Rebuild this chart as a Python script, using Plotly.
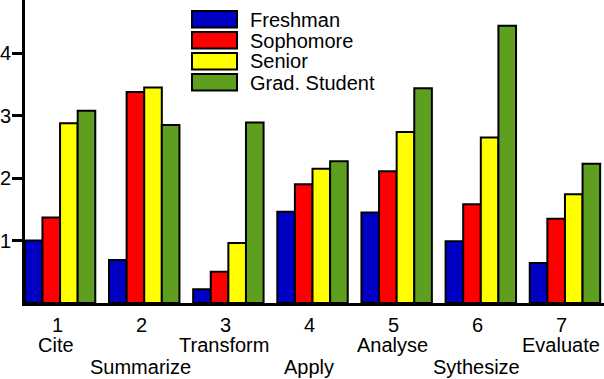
import plotly.graph_objects as go

# ---- data ----
category_numbers = ["1", "2", "3", "4", "5", "6", "7"]
category_names = ["Cite", "Summarize", "Transform", "Apply", "Analyse", "Sythesize", "Evaluate"]
series_names = ["Freshman", "Sophomore", "Senior", "Grad. Student"]
freshman = [1.00, 0.69, 0.22, 1.46, 1.45, 0.99, 0.64]
sophomore = [1.37, 3.38, 0.50, 1.90, 2.11, 1.58, 1.35]
senior = [2.88, 3.45, 0.96, 2.15, 2.74, 2.65, 1.74]
grad_student = [3.08, 2.85, 2.89, 2.27, 3.44, 4.44, 2.23]
y_tick_values = [1, 2, 3, 4]

series_values = [freshman, sophomore, senior, grad_student]
colors = ["#0000C4", "#FF0000", "#FFFF00", "#5F9F20"]

FONT = "Liberation Sans, Arial, sans-serif"
W, H = 604, 379
ML, MR, MT, MB = 25, 0, 0, 76
PW = W - ML - MR
PH = H - MT - MB

x_idx = list(range(len(category_numbers)))

fig = go.Figure()
for name, vals, col in zip(series_names, series_values, colors):
    fig.add_trace(go.Bar(
        x=x_idx, y=vals, name=name,
        marker=dict(color=col, line=dict(color="black", width=2)),
        showlegend=False, hoverinfo="skip",
    ))

def px_x(px):
    return (px - ML) / PW

def px_y(py):
    return 1 - (py - MT) / PH

shapes = []
annotations = []
# legend (manual, to match the reference's wide swatches)
row_tops = [11, 32, 53, 74]
for i, (name, col) in enumerate(zip(series_names, colors)):
    top = row_tops[i]
    shapes.append(dict(
        type="rect", xref="paper", yref="paper",
        x0=px_x(192), x1=px_x(237), y0=px_y(top + 16.5), y1=px_y(top),
        fillcolor=col, line=dict(color="black", width=2), layer="above",
    ))
    annotations.append(dict(
        text=name, xref="paper", yref="paper",
        x=px_x(248), y=px_y(top + 8.5), xanchor="left", yanchor="middle",
        showarrow=False, font=dict(family=FONT, size=20, color="black"),
    ))

# category labels: number, then name alternating between two rows
for i, (num, nm) in enumerate(zip(category_numbers, category_names)):
    annotations.append(dict(
        text=num, xref="x", yref="paper", x=i, y=0, xshift=-3, yshift=-(325 - PH),
        xanchor="center", yanchor="middle", showarrow=False,
        font=dict(family=FONT, size=20, color="black"),
    ))
    row_y = 345 if i % 2 == 0 else 367
    annotations.append(dict(
        text=nm, xref="x", yref="paper", x=i, y=0, xshift=-4, yshift=-(row_y - PH),
        xanchor="center", yanchor="middle", showarrow=False,
        font=dict(family=FONT, size=20, color="black"),
    ))

fig.update_layout(
    width=W, height=H,
    margin=dict(l=ML, r=MR, t=MT, b=MB, pad=0, autoexpand=False),
    paper_bgcolor="white", plot_bgcolor="white",
    barmode="group", bargap=0.163, bargroupgap=0,
    showlegend=False, hovermode=False,
    font=dict(family=FONT, size=20, color="black"),
    shapes=shapes, annotations=annotations,
    xaxis=dict(
        range=[-0.4167, 6.464], showgrid=False, zeroline=False,
        showticklabels=False, ticks="", automargin=False,
        showline=True, linecolor="black", linewidth=3,
    ),
    yaxis=dict(
        range=[0, 4.853], showgrid=False, zeroline=False, automargin=False,
        tickmode="array", tickvals=y_tick_values,
        ticktext=[str(v) for v in y_tick_values],
        ticks="outside", ticklen=10, tickwidth=3, tickcolor="black",
        ticklabelstandoff=-3,
        showline=True, linecolor="black", linewidth=3,
        tickfont=dict(family=FONT, size=20, color="black"),
    ),
)

fig.write_html(
    "out.html",
    config={"displayModeBar": False, "staticPlot": True},
    post_script="document.body.style.margin='0';document.body.style.padding='0';document.body.style.overflow='hidden';",
)
